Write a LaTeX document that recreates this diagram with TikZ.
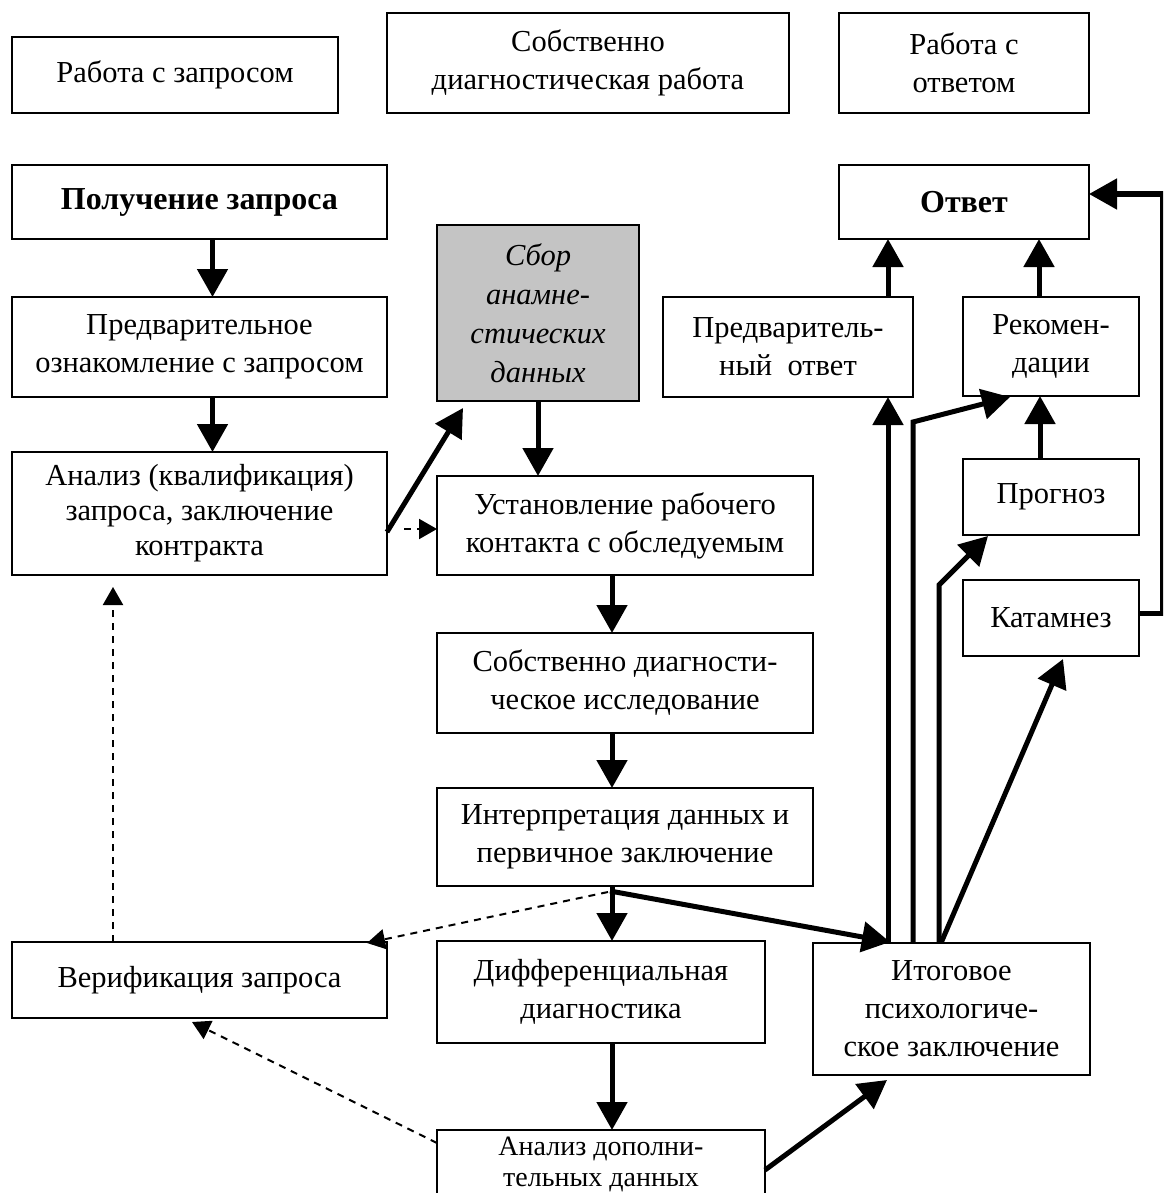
\documentclass[tikz,border=0pt]{standalone}
\usepackage{fontspec}
\setmainfont{Liberation Serif}
\usetikzlibrary{arrows.meta,calc}
\tikzset{
  box/.style={draw, line width=1.6pt, rectangle, anchor=north west, inner sep=0pt, outer sep=0pt,
    align=center, font=\fontsize{30.5}{38}\selectfont},
  greybox/.style={box, fill={rgb,255:red,196;green,196;blue,196}, font=\fontsize{30.5}{39}\selectfont\itshape},
  boldbox/.style={box, font=\fontsize{32}{38}\selectfont\bfseries},
  arr/.style={line width=5pt, line join=miter, -{Triangle[length=28pt,width=30pt]}},
  darr/.style={line width=2pt, dash pattern=on 7pt off 6pt, -{Triangle[length=18pt,width=20pt]}}
}
\begin{document}
\begin{tikzpicture}[x=1pt,y=-1pt]
\useasboundingbox (0,0) rectangle (1163,1193);
\fill[white] (0,0) rectangle (1163,1193);
\clip (0,0) rectangle (1163,1193);

% header boxes
\node[box, minimum width=326pt, minimum height=76pt] (hq) at (12,37) {Работа с запросом};
\node[box, minimum width=402pt, minimum height=100pt] (hd) at (387,13) {Собственно\\диагностическая работа};
\node[box, minimum width=250pt, minimum height=100pt] (ha) at (839,13) {Работа с\\ответом};

% main boxes
\node[boldbox, minimum width=375pt, minimum height=74pt] (get) at (12,165) {Получение запроса};
\node[boldbox, minimum width=250pt, minimum height=74pt] (otv) at (839,165) {Ответ};
\node[greybox, minimum width=202pt, minimum height=176pt] (sbor) at (437,225) {Сбор\\анамне-\\стических\\данных};
\node[box, minimum width=375pt, minimum height=100pt] (pred) at (12,297) {Предварительное\\ознакомление с запросом};
\node[box, minimum width=250pt, minimum height=100pt] (pans) at (663,297) {Предваритель-\\ный\ \ ответ};
\node[box, minimum width=176pt, minimum height=99pt] (rek) at (963,297) {Рекомен-\\дации};
\node[box, minimum width=375pt, minimum height=123pt, font=\fontsize{30.5}{35}\selectfont] (anal) at (12,452) {Анализ (квалификация)\\запроса, заключение\\контракта};
\node[box, minimum width=376pt, minimum height=99pt] (ust) at (437,476) {Установление рабочего\\контакта с обследуемым};
\node[box, minimum width=176pt, minimum height=76pt] (prog) at (963,459) {Прогноз};
\node[box, minimum width=176pt, minimum height=76pt] (kat) at (963,580) {Катамнез};
\node[box, minimum width=376pt, minimum height=100pt] (sob) at (437,633) {Собственно диагности-\\ческое исследование};
\node[box, minimum width=376pt, minimum height=98pt] (intp) at (437,788) {Интерпретация данных и\\первичное заключение};
\node[box, minimum width=375pt, minimum height=76pt] (ver) at (12,942) {Верификация запроса};
\node[box, minimum width=328pt, minimum height=102pt] (dif) at (437,941) {Дифференциальная\\диагностика};
\node[box, minimum width=277pt, minimum height=132pt] (itog) at (813,943) {Итоговое\\психологиче-\\ское заключение};
\node[box, minimum width=328pt, minimum height=68pt, font=\fontsize{28}{31}\selectfont] (adop) at (437,1130) {Анализ дополни-\\тельных данных};

% helper coordinates
\coordinate (j) at ($(intp.south)+(-13,0)$);
\coordinate (i1) at ($(itog.north west)+(75,0)$);
\coordinate (p1) at ($(prog.north)+(-11,0)$);
\coordinate (r1) at ($(rek.north)+(-12,0)$);
\coordinate (a1) at ($(pans.north)+(100,0)$);

% left column
\draw[arr] ($(get.south)+(13,0)$) -- ($(pred.north)+(13,0)$);
\draw[arr] ($(pred.south)+(13,0)$) -- ($(anal.north)+(13,0)$);
\draw[arr] ($(anal.south east)+(0,-43)$) -- ($(sbor.south west)+(26,7)$);
\draw[darr] ($(anal.south east)+(17,-46)$) -- ($(ust.south west)+(0,-46)$);
\draw[darr] ($(ver.north west)+(101,0)$) -- ($(anal.south west)+(101,12)$);

% centre column
\draw[arr] (sbor.south) -- (sbor.south |- ust.north);
\draw[arr] ($(ust.south)+(-13,0)$) -- ($(sob.north)+(-13,0)$);
\draw[arr] ($(sob.south)+(-13,0)$) -- ($(intp.north)+(-13,0)$);
\draw[arr] (j) -- (j |- dif.north);
\draw[arr] ($(dif.south)+(11,0)$) -- ($(adop.north)+(11,0)$);
\draw[arr] ($(intp.south)+(-15,5)$) -- ($(itog.north west)+(77,-1)$);
\draw[darr] ($(intp.south)+(-17,6)$) -- ($(ver.north east)+(-20,1)$);
\draw[darr] ($(adop.north west)+(0,13)$) -- ($(ver.south west)+(180,4)$);
\draw[arr] ($(adop.north east)+(0,40)$) -- ($(itog.south west)+(74,5)$);

% right part
\draw[arr] (i1) -- (i1 |- pans.south);
\draw[arr] ($(itog.north west)+(100,0)$) -- ++(0,-521) -- ($(rek.south west)+(47,1)$);
\draw[arr] ($(itog.north west)+(126,0)$) -- ++(0,-358) -- ($(prog.south west)+(25,1)$);
\draw[arr] ($(itog.north west)+(128,0)$) -- ($(kat.south west)+(100,3)$);
\draw[arr] (p1) -- (p1 |- rek.south);
\draw[arr] (r1) -- (r1 |- otv.south);
\draw[arr] (a1) -- (a1 |- otv.south);
\draw[arr] ($(kat.east)+(0,-5)$) -- ++(23,0) |- ($(otv.east)+(0,-8)$);
\end{tikzpicture}
\end{document}
